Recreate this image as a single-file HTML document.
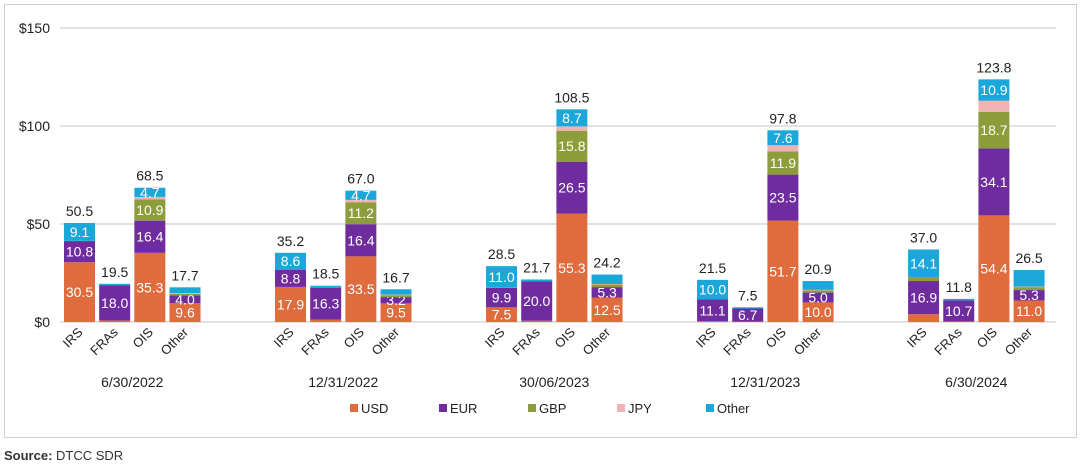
<!DOCTYPE html>
<html><head><meta charset="utf-8"><style>
body{margin:0;background:#fff;font-family:"Liberation Sans","Noto Sans CJK SC",sans-serif;}
#wrap{position:relative;width:1080px;height:466px;overflow:hidden;}
#frame{position:absolute;left:4px;top:4px;width:1071px;height:432px;border:1px solid #cfcfcf;}
#src{position:absolute;left:4px;top:448px;font-size:13px;color:#333;}
</style></head><body>
<div id="wrap">
<div id="frame"></div>
<svg id="chart" width="1080" height="466" style="position:absolute;left:0;top:0"></svg>
<div id="src"><b>Source:</b> DTCC SDR</div>
</div>
<script>
const dates = ["6/30/2022","12/31/2022","30/06/2023","12/31/2023","6/30/2024"];
const products = ["IRS","FRAs","OIS","Other"];
const seriesNames = ["USD","EUR","GBP","JPY","Other"];
const seriesColors = ["#e06b3d","#6f2c9f","#8d9d3b","#efb3b3","#1ba7da"];
const usd   = [30.5,0.8,35.3,9.6, 17.9,1.2,33.5,9.5, 7.5,0.7,55.3,12.5, 0.4,0.2,51.7,10.0, 4.0,0.3,54.4,11.0];
const eur   = [10.8,18.0,16.4,4.0, 8.8,16.3,16.4,3.2, 9.9,20.0,26.5,5.3, 11.1,6.7,23.5,5.0, 16.9,10.7,34.1,5.3];
const gbp   = [0.1,0,10.9,0.8, 0,0,11.2,1.0, 0.1,0,15.8,1.3, 0,0,11.9,1.1, 2.0,0,18.7,1.5];
const jpy   = [0,0,1.2,0.3, 0,0,1.2,0.3, 0,0,2.2,0.3, 0,0,3.1,0.3, 0,0,5.7,0.3];
const other = [9.1,0.7,4.7,3.0, 8.6,1.0,4.7,2.7, 11.0,1.0,8.7,4.8, 10.0,0.6,7.6,4.5, 14.1,0.8,10.9,8.4];
const totals = [50.5,19.5,68.5,17.7, 35.2,18.5,67.0,16.7, 28.5,21.7,108.5,24.2, 21.5,7.5,97.8,20.9, 37.0,11.8,123.8,26.5];
const yTicks = [0,50,100,150];
const yTickLabels = ["$0","$50","$100","$150"];

const svg = document.getElementById('chart');
const NS = "http://www.w3.org/2000/svg";
const y0 = 322, yTop = 28, yMax = 150;
const y = v => y0 - v/yMax*(y0-yTop);
const slot = 35.17, bw = 31, xStart = 62;
const xSlot = (g,p) => xStart + (g*6+p)*slot + 2;
function mk(tag, attrs, text){const e=document.createElementNS(NS,tag);for(const k in attrs)e.setAttribute(k,attrs[k]);if(text!==undefined)e.textContent=text;svg.appendChild(e);return e;}

yTicks.forEach((t,i)=>{
  const l = mk('line',{x1:60,x2:1056,y1:y(t),y2:y(t),stroke:'#d9d9d9','stroke-width':1.5});
  
  
  const tx = mk('text',{x:50,y:y(t)+5,'text-anchor':'end','font-size':14,fill:'#222'},yTickLabels[i]);
  
  
});

const series = [usd,eur,gbp,jpy,other];
dates.forEach((d,g)=>{
  products.forEach((p,pi)=>{
    const idx = g*4+pi;
    const x = xSlot(g,pi);
    let acc = 0;
    series.forEach((s,si)=>{
      const v = s[idx];
      if(v<=0){return;}
      const r = mk('rect',{x:x,y:y(acc+v),width:bw,height:y(acc)-y(acc+v),fill:seriesColors[si]});
      
      
      let show = v>=3;
      if(si===0 && v<5) show=false;
      if(si===4 && pi===3) show=false;
      if(si===3) show=false;
      if(show){
        const t = mk('text',{x:x+bw/2,y:(y(acc)+y(acc+v))/2+5,'text-anchor':'middle','font-size':14,fill:'#fff'},v.toFixed(1));
        
        
      }
      acc += v;
    });
    const tt = mk('text',{x:x+bw/2,y:y(Math.max(acc,totals[idx]))-7,'text-anchor':'middle','font-size':14,fill:'#222'},totals[idx].toFixed(1));
    
    
    const cx = x+bw/2+4, cy = 333;
    const ct = mk('text',{x:cx,y:cy,'text-anchor':'end','font-size':13,fill:'#222',transform:`rotate(-45 ${cx} ${cy})`},p);
    
    
  });
  const gx = (xSlot(g,0)+xSlot(g,3)+bw)/2;
  const dt = mk('text',{x:gx,y:387,'text-anchor':'middle','font-size':14,fill:'#222'},d);
  
  
});

seriesNames.forEach((n,i)=>{
  const lx = 350 + i*89;
  const sq = mk('rect',{x:lx,y:404,width:8,height:8,fill:seriesColors[i]});
  
  
  const lt = mk('text',{x:lx+11,y:413,'font-size':13,fill:'#222'},n);
  
  
});
</script>
</body></html>
